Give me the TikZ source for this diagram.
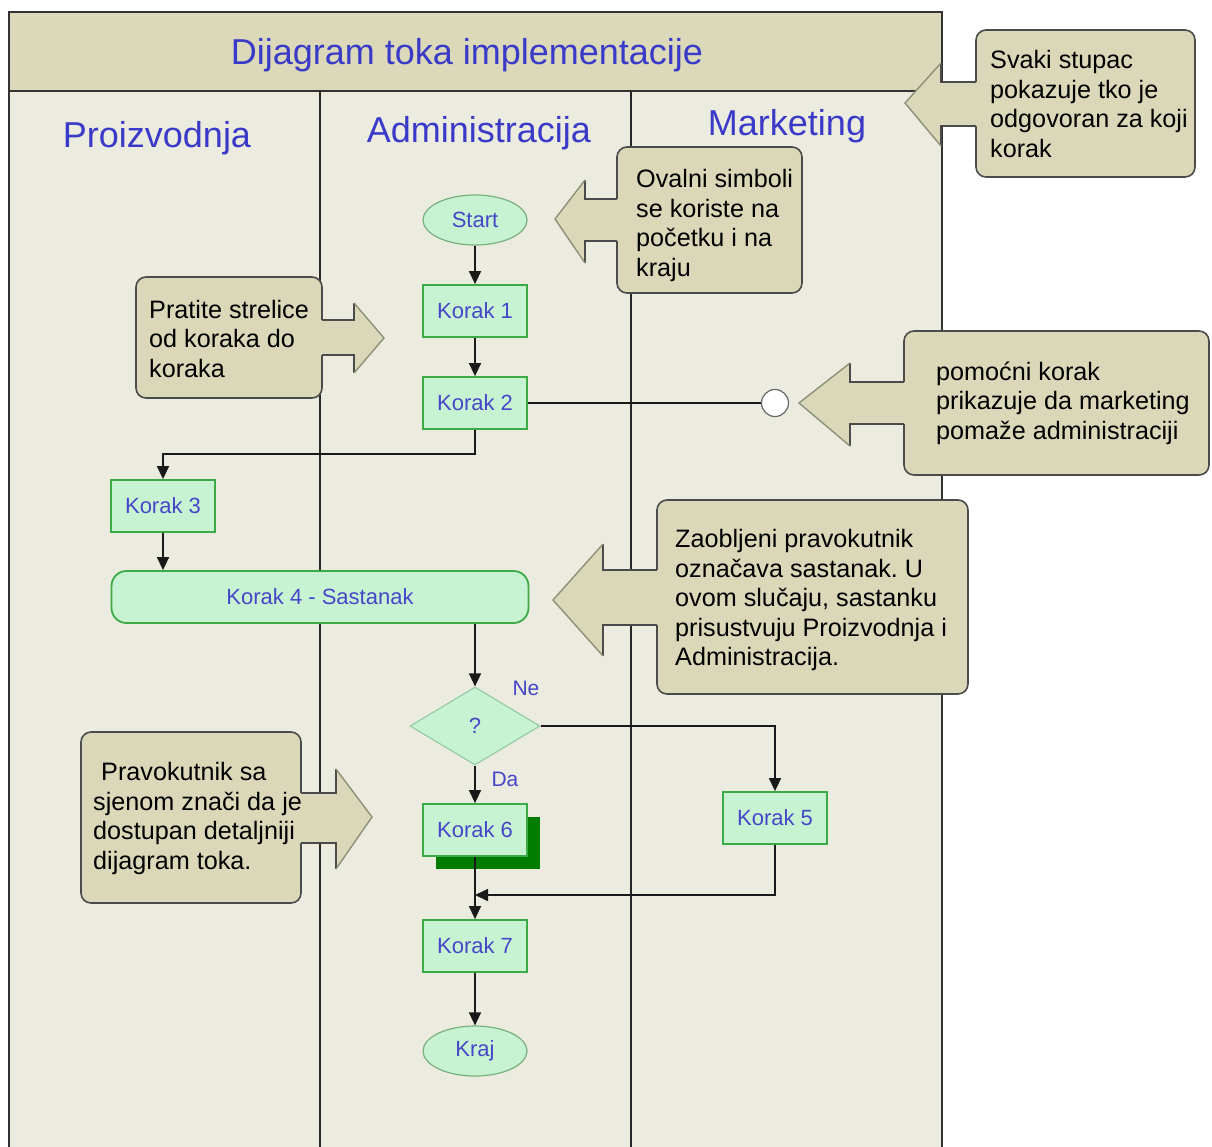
\documentclass[tikz,border=0pt]{standalone}
\usepackage{fontspec}
\setmainfont{Liberation Sans}
\usetikzlibrary{shapes.geometric,arrows.meta,shadows}
\frenchspacing
\definecolor{lanefill}{RGB}{236,235,223}
\definecolor{titlefill}{RGB}{219,217,185}
\definecolor{calfill}{RGB}{218,216,184}
\definecolor{calline}{RGB}{75,75,75}
\definecolor{calhead}{RGB}{140,145,120}
\definecolor{headtxt}{RGB}{58,58,200}
\definecolor{steptxt}{RGB}{70,70,200}
\definecolor{stepfill}{RGB}{200,243,210}
\definecolor{stepline}{RGB}{60,170,70}
\definecolor{termline}{RGB}{120,175,125}
\definecolor{diamline}{RGB}{150,205,165}
\definecolor{shadowgreen}{RGB}{0,125,0}
\begin{document}
\begin{tikzpicture}[x=1pt,y=-1pt,
  frameline/.style={draw=black!80, line width=1.8pt},
  laneline/.style={draw=black!85, line width=1.4pt},
  headtext/.style={text=headtxt, font=\fontsize{36}{42}\selectfont, inner sep=0pt},
  stepbox/.style={rectangle, draw=stepline, line width=1.8pt, fill=stepfill, minimum width=104pt, minimum height=52pt, inner sep=0pt, text=steptxt, font=\fontsize{22}{26}\selectfont},
  term/.style={ellipse, draw=termline, line width=1.2pt, fill=stepfill, minimum width=104pt, minimum height=50pt, inner sep=0pt, text=steptxt, font=\fontsize{22}{26}\selectfont},
  meeting/.style={stepbox, rounded corners=15pt, minimum width=417pt},
  decision/.style={diamond, draw=diamline, line width=1.2pt, fill=stepfill, minimum width=130pt, minimum height=78pt, inner sep=0pt, text=steptxt, font=\fontsize{22}{26}\selectfont},
  helper/.style={circle, draw=black!60, line width=1.2pt, fill=white, minimum size=27pt, inner sep=0pt},
  conn/.style={draw=black!90, line width=1.5pt, -{Triangle[width=12pt,length=13pt]}},
  plainconn/.style={draw=black!90, line width=1.5pt},
  branchlabel/.style={text=steptxt, font=\fontsize{21}{25}\selectfont, inner sep=0pt},
  calbox/.style={draw=calline, fill=calfill, line width=1.6pt, rounded corners=10pt},
  calshaft/.style={draw=calline, line width=1.6pt},
  calheadline/.style={draw=calhead, line width=1.4pt, line join=miter},
  caltext/.style={align=left, anchor=west, inner sep=0pt, text=black, font=\fontsize{25.2}{29.5}\selectfont}
]
\useasboundingbox (0,0) rectangle (1212,1146);
\clip (0,0) rectangle (1212,1146);
\fill[white] (0,0) rectangle (1212,1146);
% frame and lanes
\fill[lanefill] (9,91) rectangle (942,1160);
\fill[titlefill] (9,12) rectangle (942,91);
\draw[frameline] (9,1160) -- (9,12) -- (942,12) -- (942,1160);
\draw[frameline] (9,91) -- (942,91);
\draw[laneline] (320,91) -- (320,1160);
\draw[laneline] (631,91) -- (631,1160);
\node[headtext] (title) at (467,55) {Dijagram toka implementacije};
\node[headtext] (lane1) at (157,138) {Proizvodnja};
\node[headtext] (lane2) at (479,133) {Administracija};
\node[headtext] (lane3) at (787,126) {Marketing};

% nodes
\node[term] (start) at (475,220) {Start};
\node[stepbox] (k1) at (475,311) {Korak 1};
\node[stepbox] (k2) at (475,403) {Korak 2};
\node[helper] (circ) at (775,403) {};
\node[stepbox] (k3) at (163,506) {Korak 3};
\node[meeting] (k4) at (320,597) {Korak 4 - Sastanak};
\node[decision] (dia) at (475,726) {?};
\node[stepbox] (k5) at (775,818) {Korak 5};
\node[stepbox, general shadow={fill=shadowgreen, shadow xshift=13pt, shadow yshift=-13pt}] (k6) at (475,830) {Korak 6};
\node[stepbox] (k7) at (475,946) {Korak 7};
\node[term] (kraj) at (475,1051) {Kraj};
\node[branchlabel] (ne) at (526,688) {Ne};
\node[branchlabel] (da) at (505,779) {Da};

% connectors
\coordinate (bend1) at (320,454);
\coordinate (bend2) at (631,895);
\draw[conn] (start) -- (k1);
\draw[conn] (k1) -- (k2);
\draw[plainconn] (k2) -- (circ);
\draw[conn] (k2.south) |- (bend1) -| (k3.north);
\draw[conn] (k3) -- (k3.south |- k4.north);
\draw[conn] (k4.south -| dia.north) -- (dia.north);
\draw[conn] (dia.east) -| (k5.north);
\draw[conn] (dia.south) -- (k6.north);
\draw[conn] (k6.south) -- (k7.north);
\draw[conn] (k5.south) |- (k6.south |- bend2);
\draw[conn] (k7) -- (kraj);

% callout 1
\draw[calbox] (976,30) rectangle (1195,177);
\fill[calfill] (979,82) -- (941,82) -- (941,63) -- (905,103) -- (941,146) -- (941,126) -- (979,126) -- cycle;
\draw[calshaft] (976,82) -- (941,82) -- (941,63);
\draw[calshaft] (941,146) -- (941,126) -- (976,126);
\draw[calheadline] (941,63) -- (905,103) -- (941,146);
\node[caltext] (c1) at (990,107) {\strut Svaki stupac\\\strut pokazuje tko je\\\strut odgovoran za koji\\\strut korak};

% callout 2
\draw[calbox] (617,147) rectangle (802,293);
\fill[calfill] (620,199) -- (585,199) -- (585,180) -- (555,219) -- (585,263) -- (585,241) -- (620,241) -- cycle;
\draw[calshaft] (617,199) -- (585,199) -- (585,180);
\draw[calshaft] (585,263) -- (585,241) -- (617,241);
\draw[calheadline] (585,180) -- (555,219) -- (585,263);
\node[caltext] (c2) at (636,226) {\strut Ovalni simboli\\\strut se koriste na\\\strut početku i na\\\strut kraju};

% callout 3
\draw[calbox] (136,277) rectangle (322,398);
\fill[calfill] (319,320) -- (354,320) -- (354,303) -- (384,338) -- (354,373) -- (354,355) -- (319,355) -- cycle;
\draw[calshaft] (322,320) -- (354,320) -- (354,303);
\draw[calshaft] (354,373) -- (354,355) -- (322,355);
\draw[calheadline] (354,303) -- (384,338) -- (354,373);
\node[caltext] (c3) at (149,342) {\strut Pratite strelice\\\strut od koraka do\\\strut koraka};

% callout 4
\draw[calbox] (904,331) rectangle (1209,475);
\fill[calfill] (907,382) -- (850,382) -- (850,363) -- (799,403) -- (850,446) -- (850,424) -- (907,424) -- cycle;
\draw[calshaft] (904,382) -- (850,382) -- (850,363);
\draw[calshaft] (850,446) -- (850,424) -- (904,424);
\draw[calheadline] (850,363) -- (799,403) -- (850,446);
\node[caltext] (c4) at (936,404) {\strut pomoćni korak\\\strut prikazuje da marketing\\\strut pomaže administraciji};

% callout 5
\draw[calbox] (657,500) rectangle (968,694);
\fill[calfill] (660,570) -- (603,570) -- (603,544) -- (553,600) -- (603,656) -- (603,625) -- (660,625) -- cycle;
\draw[calshaft] (657,570) -- (603,570) -- (603,544);
\draw[calshaft] (603,656) -- (603,625) -- (657,625);
\draw[calheadline] (603,544) -- (553,600) -- (603,656);
\node[caltext] (c5) at (675,601) {\strut Zaobljeni pravokutnik\\\strut označava sastanak. U\\\strut ovom slučaju, sastanku\\\strut prisustvuju Proizvodnja i\\\strut Administracija.};

% callout 6
\draw[calbox] (81,732) rectangle (301,903);
\fill[calfill] (298,793) -- (336,793) -- (336,769) -- (372,817) -- (336,869) -- (336,843) -- (298,843) -- cycle;
\draw[calshaft] (301,793) -- (336,793) -- (336,769);
\draw[calshaft] (336,869) -- (336,843) -- (301,843);
\draw[calheadline] (336,769) -- (372,817) -- (336,869);
\node[caltext] (c6) at (93,819) {\strut\hspace{8pt}Pravokutnik sa\\\strut sjenom znači da je\\\strut dostupan detaljniji\\\strut dijagram toka.};
\end{tikzpicture}
\end{document}
